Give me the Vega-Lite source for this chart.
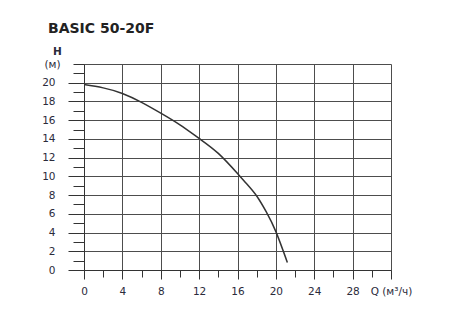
{
  "$schema": "https://vega.github.io/schema/vega-lite/v6.json",
  "width": 307,
  "height": 206,
  "autosize": "none",
  "padding": {"left": 84, "top": 64, "right": 59, "bottom": 61},
  "background": "white",
  "title": {
    "text": "BASIC 50-20F",
    "anchor": "start",
    "frame": "group",
    "dx": -36,
    "offset": 10,
    "font": "DejaVu Sans",
    "fontSize": 14,
    "fontWeight": "bold",
    "color": "#222222"
  },
  "config": {
    "view": {"stroke": null},
    "axis": {
      "labelFont": "DejaVu Sans",
      "labelFontSize": 10.5,
      "labelColor": "#2b2b3b",
      "titleFont": "DejaVu Sans",
      "gridColor": "#4d4d4d",
      "gridWidth": 1,
      "tickColor": "#333333",
      "domainColor": "#333333"
    }
  },
  "data": {
    "values": [
      {"q": 0, "h": 19.8},
      {"q": 2, "h": 19.45},
      {"q": 4, "h": 18.85},
      {"q": 6, "h": 17.9},
      {"q": 8, "h": 16.75},
      {"q": 10, "h": 15.5},
      {"q": 12, "h": 14.05},
      {"q": 14, "h": 12.45},
      {"q": 16, "h": 10.3},
      {"q": 17, "h": 9.15},
      {"q": 18, "h": 7.9},
      {"q": 19, "h": 6.2},
      {"q": 20, "h": 4.1},
      {"q": 21.2, "h": 0.8}
    ]
  },
  "mark": {"type": "line", "color": "#333333", "strokeWidth": 1.5, "interpolate": "natural", "clip": true},
  "encoding": {
    "x": {
      "field": "q",
      "type": "quantitative",
      "scale": {"domain": [0, 32], "nice": false, "zero": false},
      "axis": {
        "title": null,
        "values": [0, 2, 4, 6, 8, 10, 12, 14, 16, 18, 20, 22, 24, 26, 28, 30, 32],
        "labelExpr": "datum.value == 32 ? 'Q (м³/ч)' : (datum.value % 4 == 0 ? datum.label : '')",
        "tickSize": {"condition": {"test": "datum.value % 4 == 0", "value": 9}, "value": 7},
        "gridOpacity": {"condition": {"test": "datum.value % 4 == 0", "value": 1}, "value": 0},
        "grid": true,
        "labelPadding": 7,
        "labelFlush": false,
        "labelOverlap": false,
        "domain": true
      }
    },
    "y": {
      "field": "h",
      "type": "quantitative",
      "scale": {"domain": [0, 22], "nice": false, "zero": false},
      "axis": {
        "title": "H",
        "titleAngle": 0,
        "titleX": -27,
        "titleY": -13,
        "titleAlign": "center",
        "titleBaseline": "middle",
        "titleFontSize": 10.5,
        "titleFontWeight": "bold",
        "titleColor": "#2b2b3b",
        "values": [0, 1, 2, 3, 4, 5, 6, 7, 8, 9, 10, 11, 12, 13, 14, 15, 16, 17, 18, 19, 20, 21, 22],
        "labelExpr": "datum.value == 22 ? '(м)' : (datum.value % 2 == 0 ? datum.label : '')",
        "tickSize": {"condition": {"test": "datum.value % 2 == 0 && datum.value < 22", "value": 16}, "value": 11},
        "gridOpacity": {"condition": {"test": "datum.value % 2 == 0", "value": 1}, "value": 0},
        "grid": true,
        "labelPadding": 13,
        "labelFlush": false,
        "labelOverlap": false
      }
    }
  }
}
